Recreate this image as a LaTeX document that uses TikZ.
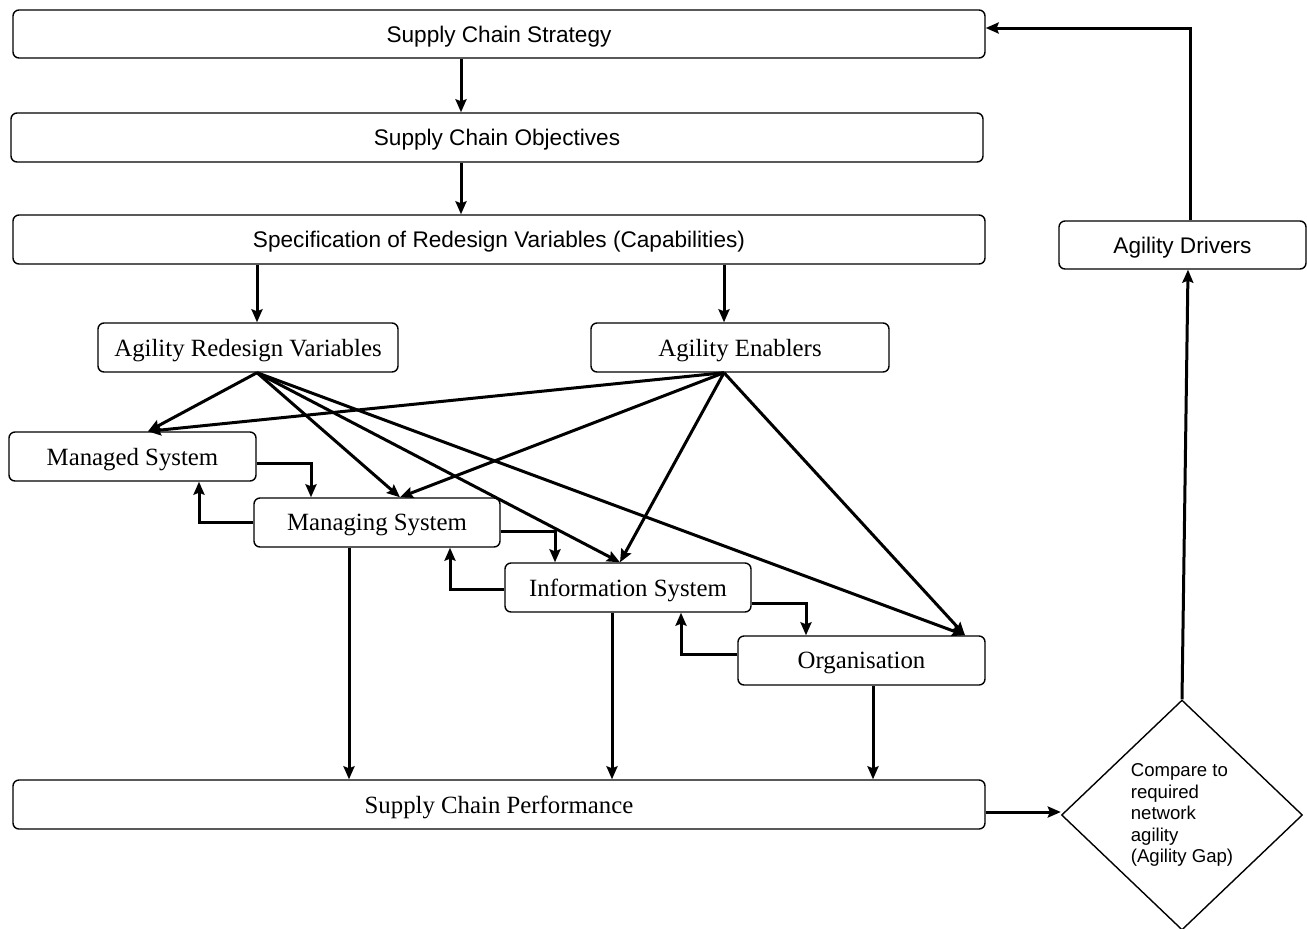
\documentclass[tikz,border=0pt]{standalone}
\usepackage{fontspec}
\setmainfont{Liberation Serif}
\newfontfamily\arialf{Liberation Sans}
\usetikzlibrary{arrows.meta,calc,shapes.geometric}
\tikzset{
  boxA/.style={draw,line width=0.7pt,rounded corners=3pt,inner sep=0pt,text depth=0pt,
    font=\arialf\fontsize{11.3pt}{13pt}\selectfont},
  boxT/.style={draw,line width=0.7pt,rounded corners=3pt,inner sep=0pt,text depth=0pt,
    font=\fontsize{12.4pt}{14pt}\selectfont},
  arr/.style={line width=1.5pt,-{Stealth[length=6.5pt,width=5.5pt,inset=1pt]}},
}
\begin{document}
\begin{tikzpicture}[x=0.5pt,y=-0.5pt]
\useasboundingbox (0,0) rectangle (1307,928);
% top boxes
\node[boxA,minimum width=486pt,minimum height=24pt] (strat) at (499,34) {Supply Chain Strategy};
\node[boxA,minimum width=486pt,minimum height=24.5pt] (obj) at (497,137.5) {Supply Chain Objectives};
\node[boxA,minimum width=486pt,minimum height=24.5pt] (spec) at (499,239.5) {Specification of Redesign Variables (Capabilities)};
\node[boxA,minimum width=123.5pt,minimum height=24pt] (drv) at (1182.5,245) {Agility Drivers};
% middle boxes
\node[boxT,minimum width=150pt,minimum height=24.5pt] (arv) at (248,347.5) {Agility Redesign Variables};
\node[boxT,minimum width=149pt,minimum height=24.5pt] (ae) at (740,347.5) {Agility Enablers};
\node[boxT,minimum width=123.5pt,minimum height=24.5pt] (ms) at (132.5,456.5) {Managed System};
\node[boxT,minimum width=123pt,minimum height=24.5pt] (mg) at (377,522.5) {Managing System};
\node[boxT,minimum width=123pt,minimum height=24.5pt] (is) at (628,587.5) {Information System};
\node[boxT,minimum width=123.5pt,minimum height=24.5pt] (org) at (861.5,660.5) {Organisation};
\node[boxT,minimum width=486pt,minimum height=24.5pt] (perf) at (499,804.5) {Supply Chain Performance};
% diamond
\node[draw,line width=0.7pt,diamond,minimum width=120.5pt,minimum height=115pt,inner sep=0pt,
  align=left,font=\arialf\fontsize{9.3pt}{10.75pt}\selectfont] (dia) at (1182,815)
  {Compare to\\required\\network\\agility\\(Agility Gap)};
% helper coordinates
\coordinate (s1) at ($(strat.south)+(-38,0)$);
\coordinate (o1) at ($(obj.south)+(-36,0)$);
\coordinate (arvN) at ($(arv.north)+(9,0)$);
\coordinate (aeN) at ($(ae.north)+(-16,0)$);
\coordinate (arvS) at ($(arv.south)+(9,0)$);
\coordinate (aeS) at ($(ae.south)+(-16,0)$);
\coordinate (msT) at ($(ms.north)+(15.5,0)$);
\coordinate (mgT) at ($(mg.north)+(23,0)$);
\coordinate (isT) at ($(is.north)+(-8,0)$);
\coordinate (orT) at ($(org.north)+(103.5,0)$);
% vertical chain
\draw[arr] (s1) -- (s1 |- obj.north);
\draw[arr] (o1) -- (o1 |- spec.north);
\draw[arr] (arvN |- spec.south) -- (arvN);
\draw[arr] (aeN |- spec.south) -- (aeN);
% fans
\foreach \t in {msT,mgT,isT,orT}{
  \draw[arr] (arvS) -- (\t);
  \draw[arr] (aeS) -- (\t);
}
% feedback loops
\draw[arr] ($(ms.east)+(0,6.5)$) -| ($(mg.north)+(-66,0)$);
\draw[arr] (mg.west) -| ($(ms.south)+(66.5,0)$);
\draw[arr] ($(mg.east)+(0,8.5)$) -| ($(is.north)+(-73,0)$);
\draw[arr] ($(is.west)+(0,1.5)$) -| ($(mg.south)+(73,0)$);
\draw[arr] ($(is.east)+(0,15.5)$) -| ($(org.north)+(-55.5,0)$);
\draw[arr] ($(org.west)+(0,-6.5)$) -| ($(is.south)+(53,0)$);
% down to performance
\coordinate (d1) at ($(mg.south)+(-28,0)$);
\coordinate (d2) at ($(is.south)+(-16,0)$);
\coordinate (d3) at ($(org.south)+(11.5,0)$);
\draw[arr] (d1) -- (d1 |- perf.north);
\draw[arr] (d2) -- (d2 |- perf.north);
\draw[arr] (d3) -- (d3 |- perf.north);
% right loop
\coordinate (pe) at ($(perf.east)+(0,7.5)$);
\draw[arr] (pe) -- (pe -| dia.west);
\draw[arr] (dia.north) -- ($(drv.south)+(5.5,0)$);
\draw[arr] ($(drv.north)+(7.5,0)$) |- ($(strat.east)+(0,-6)$);
\end{tikzpicture}
\end{document}
